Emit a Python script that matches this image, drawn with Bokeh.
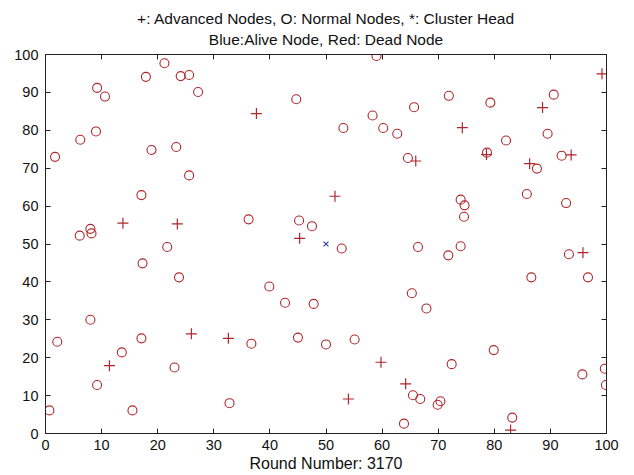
from bokeh.plotting import figure
from bokeh.models import Range1d, FixedTicker, LinearAxis, Title
from bokeh.embed import file_html
from bokeh.resources import INLINE

# Normal nodes (dead, red circles)
normal_x = [1.7, 6.2, 9.0, 9.2, 10.6, 17.9, 21.2, 24.1, 25.6, 27.2, 18.9, 23.3, 25.6, 17.1,
            6.1, 8.0, 8.2, 21.7, 17.3, 23.8, 8.0, 2.1, 17.1, 13.6, 23.0, 9.2, 0.7, 15.5,
            59.0, 44.7, 58.3, 53.1, 60.2, 62.7, 65.7, 64.6, 36.2, 45.2, 47.5,
            90.6, 71.9, 79.3, 89.5, 82.1, 78.7, 92.0, 87.6, 85.8, 92.8, 74.0, 74.7, 74.6,
            52.8, 66.4, 39.9, 42.7, 47.8, 65.3, 36.7, 45.0, 50.0, 55.1, 65.5, 32.8, 63.9,
            71.8, 74.0, 93.3, 86.6, 96.7, 67.9, 79.9, 72.4, 99.7, 95.7, 99.9, 66.8, 70.4, 69.9, 83.2]
normal_y = [73.0, 77.5, 79.7, 91.2, 88.9, 94.1, 97.7, 94.3, 94.6, 90.1, 74.8, 75.6, 68.1, 62.9,
            52.2, 54.0, 52.8, 49.2, 44.9, 41.2, 30.0, 24.2, 25.1, 21.4, 17.4, 12.8, 6.1, 6.1,
            99.6, 88.2, 83.9, 80.6, 80.6, 79.1, 86.1, 72.7, 56.5, 56.2, 54.7,
            89.4, 89.1, 87.3, 79.1, 77.3, 74.1, 73.3, 69.9, 63.2, 60.8, 61.7, 60.2, 57.2,
            48.8, 49.2, 38.8, 34.5, 34.2, 37.0, 23.7, 25.3, 23.5, 24.8, 10.1, 8.0, 2.6,
            47.0, 49.4, 47.3, 41.2, 41.2, 33.0, 22.0, 18.3, 17.1, 15.6, 12.8, 9.1, 8.5, 7.6, 4.2]

# Advanced nodes (dead, red pluses)
adv_x = [13.8, 23.5, 37.6, 66.0, 51.6, 45.3, 99.2, 88.6, 74.3, 78.6, 93.7, 86.3,
         26.0, 11.4, 32.6, 59.8, 64.2, 54.0, 95.8, 82.9]
adv_y = [55.5, 55.3, 84.4, 71.9, 62.6, 51.5, 94.9, 86.0, 80.7, 73.6, 73.5, 71.2,
         26.3, 17.9, 25.1, 18.8, 13.1, 9.1, 47.7, 0.9]

# Sink / cluster head marker (blue x)
sink_x = [50.0]
sink_y = [50.0]

ticks = [0, 10, 20, 30, 40, 50, 60, 70, 80, 90, 100]
title_line1 = "+: Advanced Nodes, O: Normal Nodes, *: Cluster Head"
title_line2 = "Blue:Alive Node, Red: Dead Node"
x_label = "Round Number: 3170"

FONT = "Liberation Sans"
RED = "#b0262b"
INK = "#111111"

p = figure(width=634, height=475, output_backend="svg", toolbar_location=None,
           x_range=Range1d(0, 100), y_range=Range1d(0, 100),
           min_border_left=45, min_border_right=28, min_border_top=54, min_border_bottom=42,
           background_fill_color="white", border_fill_color="white")

p.title.visible = False
p.grid.visible = False
p.outline_line_color = "#222222"
p.outline_line_width = 1

for ax in (p.xaxis[0], p.yaxis[0]):
    ax.ticker = FixedTicker(ticks=ticks)
    ax.major_tick_in = 5
    ax.major_tick_out = 0
    ax.minor_tick_line_color = None
    ax.axis_line_color = "#222222"
    ax.major_tick_line_color = "#222222"
    ax.major_label_text_font = FONT
    ax.major_label_text_font_size = "14.5px"
    ax.major_label_text_color = INK

p.xaxis[0].major_label_standoff = 6
p.yaxis[0].major_label_standoff = 7
p.xaxis[0].axis_label = x_label
p.xaxis[0].axis_label_text_font = FONT
p.xaxis[0].axis_label_text_font_size = "16px"
p.xaxis[0].axis_label_text_font_style = "normal"
p.xaxis[0].axis_label_text_color = INK
p.xaxis[0].axis_label_standoff = 2

# box ticks on top and right (no labels)
for loc in ("above", "right"):
    ax = LinearAxis(ticker=FixedTicker(ticks=ticks))
    ax.major_tick_in = 5
    ax.major_tick_out = 0
    ax.minor_tick_line_color = None
    ax.axis_line_color = "#222222"
    ax.major_tick_line_color = "#222222"
    ax.major_label_overrides = {t: "" for t in ticks}
    ax.major_label_text_font_size = "1px"
    ax.major_label_standoff = 0
    p.add_layout(ax, loc)

# two centred title lines (the later one goes further from the frame)
t2 = Title(text=title_line2, align="center", vertical_align="top", text_font=FONT,
           text_font_size="15.5px", text_font_style="normal", text_color=INK, standoff=9)
t1 = Title(text=title_line1, align="center", text_font=FONT, text_font_size="15.5px",
           text_font_style="normal", text_color=INK, standoff=0)
p.add_layout(t2, "above")
p.add_layout(t1, "above")

p.scatter(normal_x, normal_y, marker="circle", size=9, fill_color=None,
          line_color=RED, line_width=1.1)
p.scatter(adv_x, adv_y, marker="cross", size=11, line_color=RED, line_width=1.2)
p.scatter(sink_x, sink_y, marker="x", size=7, line_color="#2b3f9a", line_width=1.1)

open("out.html", "w").write(file_html(p, INLINE))
